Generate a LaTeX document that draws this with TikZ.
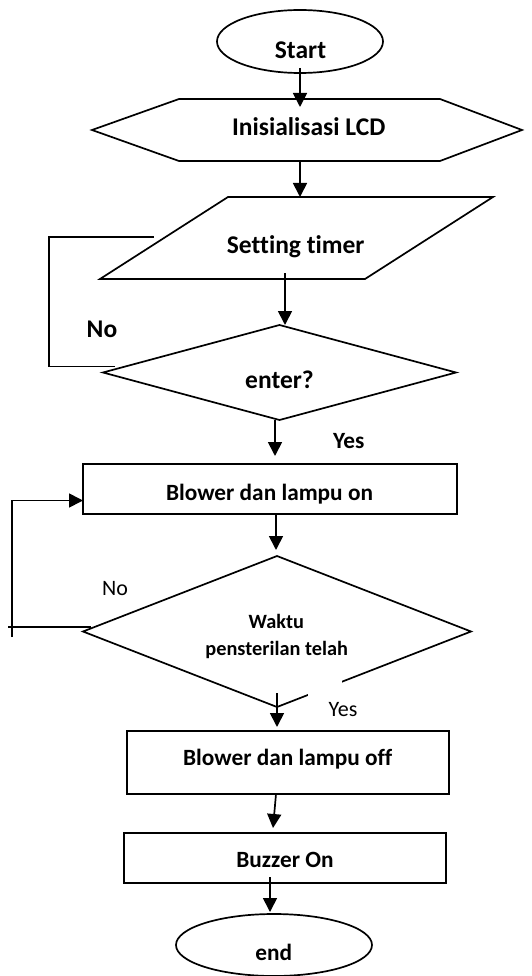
\documentclass[tikz,border=0pt]{standalone}
\usepackage{fontspec}
\setmainfont{Carlito}[Ligatures=NoCommon]
\usetikzlibrary{shapes.geometric,arrows.meta,calc}
\begin{document}
\begin{tikzpicture}[x=1pt,y=-1pt, line width=1.7pt,
  box/.style={draw, rectangle, inner sep=0, outer sep=0},
  term/.style={draw, ellipse, inner sep=0, outer sep=0},
  dec/.style={draw, diamond, inner sep=0, outer sep=0},
  ghost/.style={rectangle, inner sep=0, outer sep=0},
  arr/.style={-{Triangle[width=14pt,length=14pt]}},
  big/.style={anchor=base, inner sep=0, font=\bfseries\fontsize{25.5}{30}\selectfont},
  mid/.style={anchor=base, inner sep=0, font=\bfseries\fontsize{23.3}{28}\selectfont},
  sml/.style={anchor=base, inner sep=0, font=\bfseries\fontsize{20.3}{24}\selectfont},
  reg/.style={anchor=base, inner sep=0, font=\fontsize{22}{26}\selectfont},
]
\useasboundingbox (0,0) rectangle (532,976);

% shapes
\node[term, minimum width=166, minimum height=63] (start) at (300,41.5) {};
\node[ghost, minimum width=261, minimum height=62] (hex) at (309.5,130) {};
\draw (hex.north west) -- (hex.north east) -- ($(hex.east)+(82,0)$) -- (hex.south east) -- (hex.south west) -- ($(hex.west)+(-87,0)$) -- cycle;
\node[ghost, minimum width=265, minimum height=82] (set) at (296.5,238) {};
\draw ($(set.north west)+(64,0)$) -- ($(set.north east)+(64,0)$) -- ($(set.south east)+(-64,0)$) -- ($(set.south west)+(-64,0)$) -- cycle;
\node[dec, minimum width=353, minimum height=95] (d1) at (279.5,372.5) {};
\node[box, minimum width=374, minimum height=50] (on) at (270,489) {};
\node[dec, minimum width=388, minimum height=151] (d2) at (277,631.5) {};
\node[box, minimum width=322, minimum height=63] (off) at (288,762.5) {};
\node[box, minimum width=322, minimum height=50] (buzz) at (285,858) {};
\node[term, minimum width=196, minimum height=62] (fin) at (274,945) {};

% gap in the second decision
\fill[white] (308,676) rectangle (342,699);

% texts
\node[big] (tStart) at (300.5,59) {Start};
\node[big] (tHex) at (308.7,136) {Inisialisasi LCD};
\node[big] (tSet) at (295.7,253) {Setting timer};
\node[big] (tEnter) at (279.5,388) {enter?};
\node[big] (tNo1) at (102,337) {No};
\node[mid] (tYes1) at (348.7,448) {Yes};
\node[mid] (tOn) at (269.5,500) {Blower dan lampu on};
\node[reg] (tNo2) at (115,595) {No};
\node[sml] (tW1) at (276.3,628) {Waktu};
\node[sml] (tW2) at (276.7,655) {pensterilan telah};
\node[reg] (tYes2) at (343,716) {Yes};
\node[mid] (tOff) at (287.7,765) {Blower dan lampu off};
\node[mid] (tBuzz) at (285,867) {Buzzer On};
\node[mid] (tEnd) at (273.8,960) {end};

% connectors
\draw[arr] ($(start.south)+(0,-5)$) -- ($(start.south |- hex.north)+(0,8)$);
\draw[arr] (start.south |- hex.south) -- (start.south |- set.north);
\draw[arr] ($(set.south)+(-11.5,-6)$) -- ($(d1.north)+(5.5,0)$);
\draw[arr] ($(d1.south)+(-4.5,0)$) -- ($(d1.south |- on.north)+(-4.5,-8)$);
\draw[arr] ($(on.south)+(6,0)$) -- ($(on.south |- d2.north)+(6,-6)$);
\draw[arr] ($(d2.south)+(0,-14)$) -- ($(d2.south |- off.north)+(0,-4)$);
\draw[arr] ($(off.south)+(-12,0)$) -- ($(off.south |- buzz.north)+(-15,-5)$);
\draw[arr] ($(buzz.south)+(-15,-6)$) -- ($(buzz.south |- fin.north)+(-15,-2)$);

% loop 1 (No)
\coordinate (n1a) at ($(d1.west)+(12,-6)$);
\coordinate (n1b) at ($(set.west)+(-10,-1)$);
\draw (n1a) -- ++(-66,0) |- (n1b);

% loop 2 (No)
\coordinate (n2a) at ($(d2.west)+(8,-4.5)$);
\coordinate (n2c) at ($(on.west)+(0,11.5)$);
\draw (n2a) -- ++(-83,0);
\draw[arr] ($(on.west)+(-71,148)$) |- (n2c);
\end{tikzpicture}
\end{document}
